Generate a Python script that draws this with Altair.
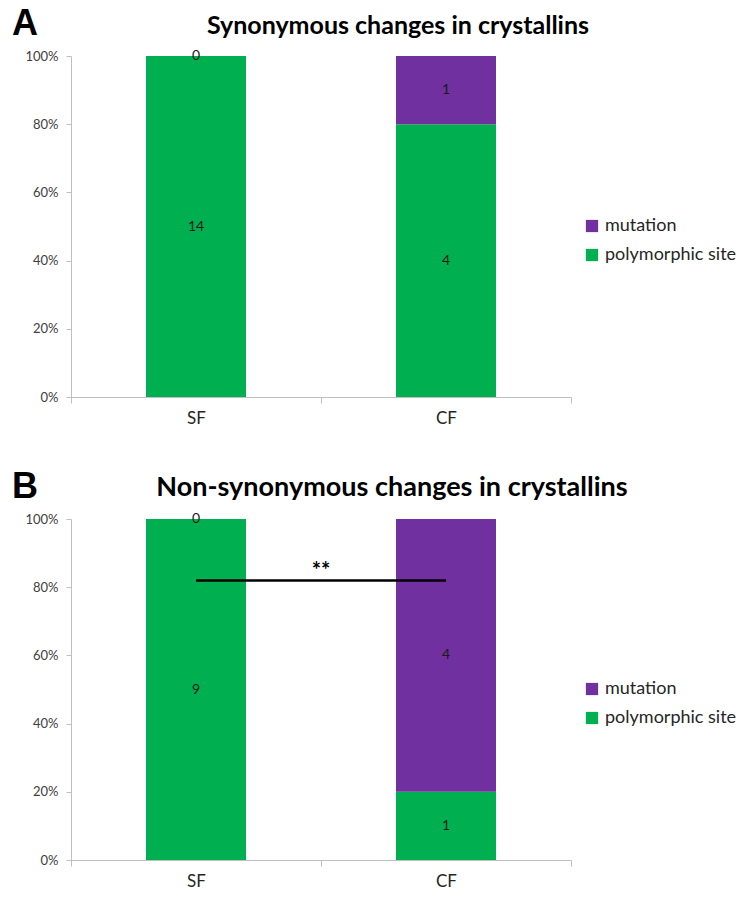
import altair as alt
import pandas as pd

categories = ["SF", "CF"]
series = ["mutation", "polymorphic site"]
syn_poly = [14, 4]
syn_mut = [0, 1]
nonsyn_poly = [9, 1]
nonsyn_mut = [0, 4]
panel_letters = ["A", "B"]
panel_titles = ["Synonymous changes in crystallins", "Non-synonymous changes in crystallins"]
sig_from = ["SF"]
sig_to = ["CF"]
sig_level = [0.82]
sig_label = ["**"]
y_ticks = [0, 0.2, 0.4, 0.6, 0.8, 1.0]

GREEN = "#00B050"
PURPLE = "#7030A0"
FONT = "Lato"


def make_df(poly, mut):
    rows = []
    for c, p, m in zip(categories, poly, mut):
        rows.append({"cat": c, "type": "polymorphic site", "count": p, "ord": 0})
        rows.append({"cat": c, "type": "mutation", "count": m, "ord": 1})
    return pd.DataFrame(rows)


def xenc(field, **kw):
    return alt.X(
        field,
        type="nominal",
        sort=categories,
        scale=alt.Scale(domain=categories, paddingInner=0, paddingOuter=0),
        axis=alt.Axis(title=None, labelAngle=0, tickBand="extent", grid=False,
                      labelFontSize=17, labelColor="#262626", labelPadding=7,
                      labelFont=FONT, domainColor="#BFBFBF", tickColor="#BFBFBF",
                      tickSize=6),
        **kw,
    )


def panel(poly, mut, letter, title, title_size, title_dx, sig):
    df = make_df(poly, mut)
    base = (
        alt.Chart(df)
        .transform_joinaggregate(total="sum(count)", groupby=["cat"])
        .transform_calculate(frac="datum.count / datum.total")
        .transform_stack(stack="frac", as_=["y0", "y1"], groupby=["cat"],
                         sort=[alt.SortField("ord", order="ascending")])
        .transform_calculate(mid="(datum.y0 + datum.y1) / 2")
    )
    yscale = alt.Scale(domain=[0, 1])
    bars = base.mark_bar(width=alt.RelativeBandSize(0.4)).encode(
        x=xenc("cat"),
        y=alt.Y("y0:Q", scale=yscale,
                axis=alt.Axis(title=None, values=y_ticks, format=".0%", grid=False,
                              labelFontSize=13, labelColor="#404040", labelFont=FONT,
                              labelPadding=8, domainColor="#BFBFBF",
                              tickColor="#BFBFBF", tickSize=5)),
        y2="y1:Q",
        color=alt.Color("type:N",
                        scale=alt.Scale(domain=series, range=[PURPLE, GREEN]),
                        legend=alt.Legend(orient="none", legendX=512, legendY=161,
                                          title=None, symbolType="square",
                                          symbolSize=150, symbolStrokeWidth=0,
                                          labelFontSize=18, labelFont=FONT,
                                          labelColor="#262626", rowPadding=11,
                                          labelOffset=4)),
    )
    labels = base.mark_text(fontSize=14, font=FONT, color="#1a1a1a").encode(
        x=xenc("cat"),
        y=alt.Y("mid:Q", scale=yscale),
        text="count:Q",
    )
    letter_layer = alt.Chart(pd.DataFrame({"letter": [letter]})).mark_text(
        align="left", baseline="alphabetic", fontSize=36, fontWeight="bold",
        font="Liberation Sans", color="black"
    ).encode(x=alt.value(-59), y=alt.value(-21), text="letter:N")
    layers = [bars, labels]
    if sig:
        sdf = pd.DataFrame({"from": sig_from, "to": sig_to, "y": sig_level, "label": sig_label})
        rule = alt.Chart(sdf).mark_rule(color="black", strokeWidth=2.5).encode(
            x=xenc("from"), x2="to:N", y=alt.Y("y:Q", scale=yscale)
        )
        star = alt.Chart(sdf).mark_text(fontSize=22, fontWeight="bold", font=FONT,
                                        baseline="alphabetic", dy=-2, color="black").encode(
            x=xenc("from", bandPosition=1), y=alt.Y("y:Q", scale=yscale), text="label:N"
        )
        layers += [rule, star]
    layers.append(letter_layer)
    return alt.layer(*layers).properties(
        width=500, height=341,
        title=alt.TitleParams(title, fontSize=title_size, font=FONT, fontWeight="bold",
                              anchor="middle", dx=title_dx, offset=-33, color="black"),
    )


A = panel(syn_poly, syn_mut, panel_letters[0], panel_titles[0], 25, 77, False)
B = panel(nonsyn_poly, nonsyn_mut, panel_letters[1], panel_titles[1], 27, 71, True)

chart = (
    alt.vconcat(A, B, spacing=43)
    .resolve_scale(color="independent")
    .configure_view(stroke=None)
    .properties(padding={"top": -2, "left": 4, "right": 0, "bottom": 0})
)

chart.save("out.html", embed_options={"renderer": "svg", "actions": False})
